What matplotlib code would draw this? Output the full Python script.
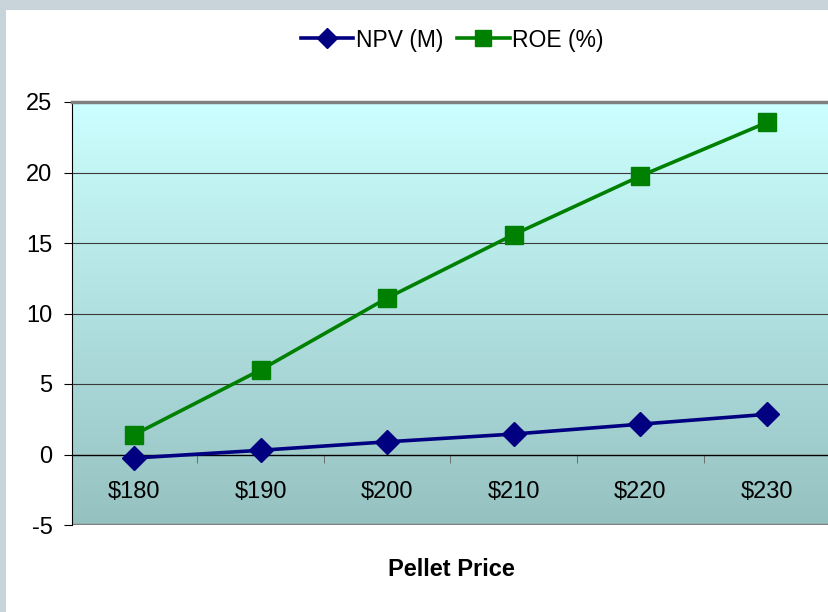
import matplotlib.pyplot as plt
import numpy as np
from matplotlib.lines import Line2D

plt.rcParams['font.family'] = ['Liberation Sans', 'DejaVu Sans']

# data
prices = ['$180', '$190', '$200', '$210', '$220', '$230']
npv = [-0.25, 0.3, 0.9, 1.45, 2.15, 2.85]
roe = [1.4, 6.0, 11.1, 15.6, 19.75, 23.55]
yticks = [-5, 0, 5, 10, 15, 20, 25]

W, H = 829, 612
fig = plt.figure(figsize=(W/100, H/100), dpi=100)
fig.patch.set_facecolor('#c8d3da')
# white chart area inside the grey frame
fig.patches.append(plt.Rectangle((6/W, 0), 1, 1 - 10/H, transform=fig.transFigure,
                                 facecolor='white', edgecolor='none', zorder=-5))

ax = fig.add_axes([72/W, 1 - 525/H, 1 - 72/W, (525 - 102)/H])
ax.set_zorder(2)
x = np.arange(len(prices))
ax.set_xlim(-0.49, len(prices) - 0.51)
ax.set_ylim(-5, 25)

# gradient background
top = np.array([204, 255, 255]) / 255
bot = np.array([150, 193, 193]) / 255
t = np.linspace(0, 1, 256)[:, None]
grad = (top * (1 - t) + bot * t)[:, None, :]
ax.imshow(grad, extent=[-0.49, len(prices) - 0.51, -5, 25], aspect='auto', zorder=0)

for g in [5, 10, 15, 20]:
    ax.axhline(g, color='#3a3a3a', lw=0.8, zorder=1)
ax.axhline(-5, color='#808080', lw=2.5, zorder=1)

ax.plot(x, npv, color='#000080', lw=2.6, marker='D', ms=12, zorder=3, clip_on=False)
ax.plot(x, roe, color='#008000', lw=2.6, marker='s', ms=13, zorder=3, clip_on=False)

ax.spines['bottom'].set_position(('data', 0))
ax.spines['bottom'].set_color('black')
ax.spines['bottom'].set_linewidth(1)
ax.spines['right'].set_visible(False)
ax.spines['top'].set_color('#808080')
ax.spines['top'].set_linewidth(2.5)
ax.spines['left'].set_color('black')

ax.set_xticks(x)
ax.set_xticklabels(prices, fontsize=17)
ax.tick_params(axis='x', which='major', length=0, pad=19)
ax.set_xticks(x[:-1] + 0.5, minor=True)
ax.tick_params(axis='x', which='minor', length=6, direction='out', color='#606060')
ax.set_yticks(yticks)
ax.set_yticklabels([str(v) for v in yticks], fontsize=17)
ax.tick_params(axis='y', length=6, direction='out', pad=8)

fig.text(451/W, 1 - 569/H, 'Pellet Price', ha='center', va='center',
         fontsize=17, fontweight='bold')

handles = [Line2D([], [], color='#000080', lw=2.6, marker='D', ms=10),
           Line2D([], [], color='#008000', lw=2.6, marker='s', ms=11)]
fig.legend(handles, ['NPV (M)', 'ROE (%)'], loc='center', bbox_to_anchor=(452/W, 1 - 40/H),
           ncol=2, frameon=False, fontsize=16.5, handlelength=2.3, handletextpad=0.1,
           columnspacing=0.6)

fig.savefig('out.png', dpi=100)
